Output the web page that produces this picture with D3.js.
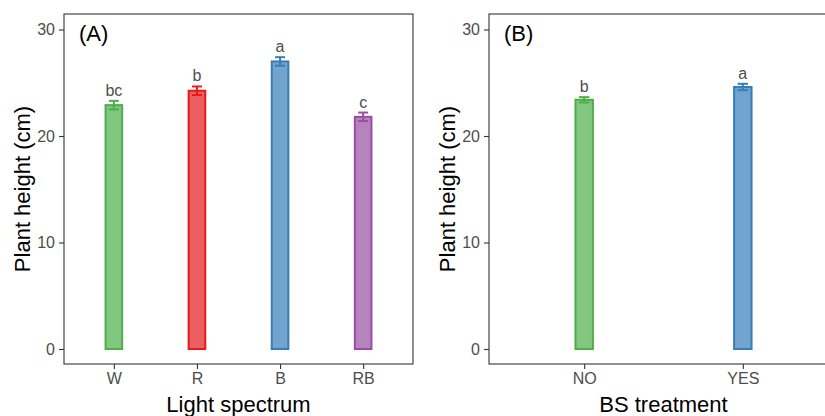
<!DOCTYPE html>
<html>
<head>
<meta charset="utf-8">
<script src="https://cdn.jsdelivr.net/npm/d3@7"></script>
<style>
  body { margin: 0; background: #fff; }
  svg text { font-family: Arial, "Liberation Sans", sans-serif; }
</style>
</head>
<body>
<svg id="chart" width="825" height="416"></svg>
<script>
// panel A: light spectrum
var lightCats = ["W", "R", "B", "RB"];
var lightMeans = [22.9, 24.25, 27.0, 21.8];
var lightErr = [0.4, 0.4, 0.4, 0.4];
var lightLetters = ["bc", "b", "a", "c"];
var lightColors = ["#4daf4a", "#e41a1c", "#377eb8", "#984ea3"];

// panel B: BS treatment
var bsCats = ["NO", "YES"];
var bsMeans = [23.4, 24.6];
var bsErr = [0.25, 0.3];
var bsLetters = ["b", "a"];
var bsColors = ["#4daf4a", "#377eb8"];

var yTicks = [0, 10, 20, 30];

var svg = d3.select("#chart");

function drawPanel(opt) {
    var top = 14, bottom = 364;
    var left = opt.left, right = opt.left + 349;

    var y = d3.scaleLinear()
        .domain([0, 30])
        .range([349, 29.5]);

    var x = d3.scalePoint()
        .domain(opt.cats)
        .range([left, right])
        .padding(0.6);

    var barW = x.step() * opt.barFrac;
    var capW = barW * 0.6;

    var g = svg.append("g");

    // bars
    g.selectAll(".bar")
        .data(opt.cats)
        .enter()
        .append("rect")
        .attr("x", d => x(d) - barW / 2)
        .attr("y", (d, i) => y(opt.means[i]))
        .attr("width", barW)
        .attr("height", (d, i) => y(0) - y(opt.means[i]))
        .attr("fill", (d, i) => opt.colors[i])
        .attr("fill-opacity", 0.7)
        .attr("stroke", (d, i) => opt.colors[i])
        .attr("stroke-width", 2);

    // error bars + letters
    opt.cats.forEach(function(c, i) {
        var hi = y(opt.means[i] + opt.err[i]);
        var lo = y(opt.means[i] - opt.err[i]);
        var cx = x(c);
        var eg = g.append("g")
            .attr("stroke", opt.colors[i])
            .attr("stroke-width", 2);
        eg.append("line").attr("x1", cx).attr("x2", cx).attr("y1", hi).attr("y2", lo);
        eg.append("line").attr("x1", cx - capW / 2).attr("x2", cx + capW / 2).attr("y1", hi).attr("y2", hi);
        eg.append("line").attr("x1", cx - capW / 2).attr("x2", cx + capW / 2).attr("y1", lo).attr("y2", lo);

        g.append("text")
            .attr("x", cx)
            .attr("y", hi - 5)
            .attr("text-anchor", "middle")
            .attr("font-size", 16)
            .attr("fill", "#4d4d4d")
            .text(opt.letters[i]);
    });

    // panel border
    g.append("rect")
        .attr("x", left)
        .attr("y", top)
        .attr("width", right - left)
        .attr("height", bottom - top)
        .attr("fill", "none")
        .attr("stroke", "#333")
        .attr("stroke-width", 1.1);

    // y axis
    var yAxis = g.append("g")
        .attr("transform", "translate(" + left + ",0)")
        .call(d3.axisLeft(y).tickValues(yTicks).tickSize(5).tickPadding(4));
    yAxis.select(".domain").remove();
    yAxis.selectAll("line").attr("stroke", "#333").attr("stroke-width", 1.1);
    yAxis.selectAll("text").attr("font-size", 16).attr("fill", "#4d4d4d");

    // x axis
    var xAxis = g.append("g")
        .attr("transform", "translate(0," + bottom + ")")
        .call(d3.axisBottom(x).tickSize(5).tickPadding(4));
    xAxis.select(".domain").remove();
    xAxis.selectAll("line").attr("stroke", "#333").attr("stroke-width", 1.1);
    xAxis.selectAll("text").attr("font-size", 16).attr("fill", "#4d4d4d");

    // axis titles
    g.append("text")
        .attr("transform", "translate(" + (left - 34) + "," + ((top + bottom) / 2) + ") rotate(-90)")
        .attr("text-anchor", "middle")
        .attr("font-size", 22)
        .attr("fill", "#000")
        .text("Plant height (cm)");

    g.append("text")
        .attr("x", opt.titleX)
        .attr("y", 412)
        .attr("text-anchor", "middle")
        .attr("font-size", 22)
        .attr("fill", "#000")
        .text(opt.xTitle);

    // panel tag
    g.append("text")
        .attr("x", left + 15)
        .attr("y", 41)
        .attr("font-size", 22)
        .attr("fill", "#000")
        .text(opt.tag);
}

drawPanel({
    left: 64, cats: lightCats, means: lightMeans, err: lightErr,
    letters: lightLetters, colors: lightColors, barFrac: 0.2,
    xTitle: "Light spectrum", titleX: 238.5, tag: "(A)"
});

drawPanel({
    left: 489, cats: bsCats, means: bsMeans, err: bsErr,
    letters: bsLetters, colors: bsColors, barFrac: 0.11,
    xTitle: "BS treatment", titleX: 663.5, tag: "(B)"
});
</script>
</body>
</html>
